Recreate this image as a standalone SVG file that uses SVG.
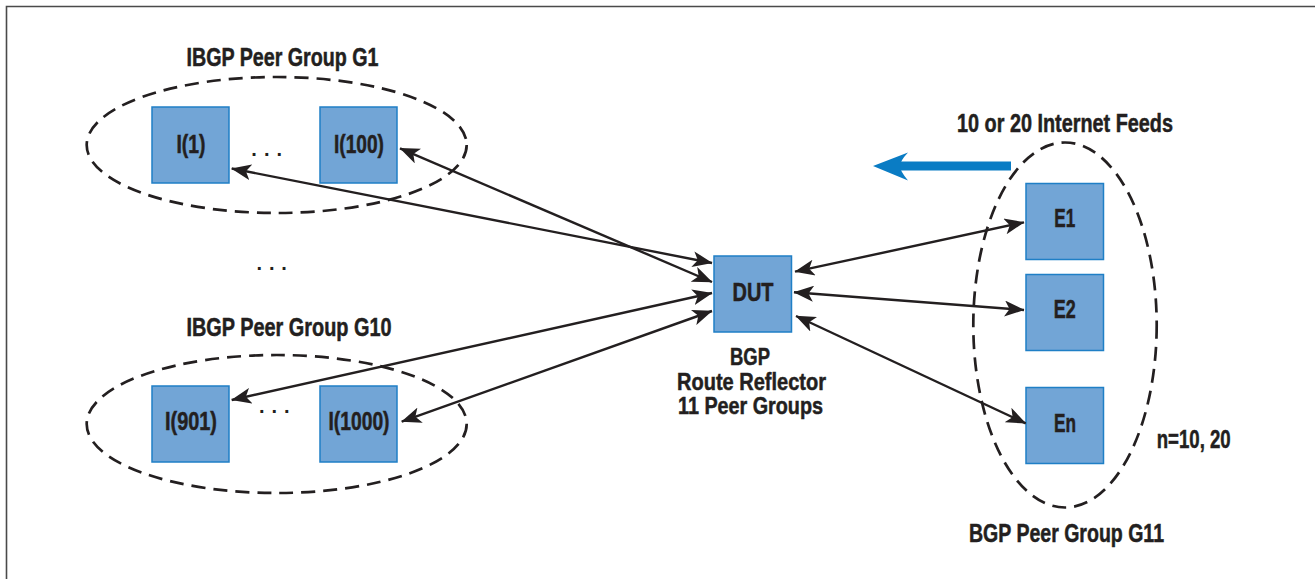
<svg xmlns="http://www.w3.org/2000/svg" width="1315" height="579" viewBox="0 0 1315 579">
<style>
text{font-family:"Liberation Sans Narrow","Liberation Sans",Arial,sans-serif;font-weight:bold;font-size:25px;fill:#231f20;stroke:#231f20;stroke-width:0.5;text-anchor:middle}
text.dots{font-size:20px;stroke:none}
text.cap{font-size:23.5px}
.box{fill:#72a5d6;stroke:#1f7fc6;stroke-width:1.5}
.grp{fill:none;stroke:#231f20;stroke-width:2.7;stroke-dasharray:14 8}
.conn{fill:none;stroke:#231f20;stroke-width:2.4;marker-start:url(#ah);marker-end:url(#ah)}
</style>
<defs>
<marker id="ah" markerUnits="userSpaceOnUse" markerWidth="20" markerHeight="16" viewBox="0 0 20 16" refX="19.5" refY="8" orient="auto-start-reverse">
<path d="M0,0 L20,8 L0,16 L5,8 Z" fill="#231f20"/>
</marker>
</defs>
<rect width="1315" height="579" fill="#fff"/>
<path d="M6.5,579 V6.5 H1315" fill="none" stroke="#4a4a4a" stroke-width="1.6"/>

<g id="group-g1">
<ellipse class="grp" cx="276.7" cy="145" rx="190" ry="68"/>
<text x="282.5" y="66" textLength="192" lengthAdjust="spacingAndGlyphs">IBGP Peer Group G1</text>
<text class="dots" x="254 266.7 279.3" y="155.5">...</text>
</g>
<g id="group-g10">
<ellipse class="grp" cx="276.7" cy="424" rx="190" ry="69"/>
<text x="289" y="336" textLength="205" lengthAdjust="spacingAndGlyphs">IBGP Peer Group G10</text>
<text class="dots" x="261.7 274.3 286.7" y="412.5">...</text>
</g>
<g id="between-dots">
<text class="dots" x="259.3 271.7 284" y="269.5">...</text>
</g>
<g id="group-g11">
<ellipse class="grp" cx="1065" cy="325" rx="91.7" ry="182.5"/>
<text x="1066.5" y="541.7" textLength="195" lengthAdjust="spacingAndGlyphs">BGP Peer Group G11</text>
<text x="1193.7" y="448.3" textLength="74" lengthAdjust="spacingAndGlyphs">n=10, 20</text>
</g>

<g id="node-I1">
<rect class="box" x="152" y="107" width="77" height="76"/>
<text x="191" y="153.3" textLength="29" lengthAdjust="spacingAndGlyphs">I(1)</text>
</g>
<g id="node-I100">
<rect class="box" x="320" y="107" width="77" height="76"/>
<text x="359" y="153.3" textLength="50" lengthAdjust="spacingAndGlyphs">I(100)</text>
</g>
<g id="node-I901">
<rect class="box" x="152" y="386" width="77" height="76"/>
<text x="191" y="430" textLength="52" lengthAdjust="spacingAndGlyphs">I(901)</text>
</g>
<g id="node-I1000">
<rect class="box" x="320" y="386" width="77" height="76"/>
<text x="359" y="430" textLength="61" lengthAdjust="spacingAndGlyphs">I(1000)</text>
</g>
<g id="node-DUT">
<rect class="box" x="714" y="256" width="77.5" height="76"/>
<text x="753" y="301" textLength="41" lengthAdjust="spacingAndGlyphs">DUT</text>
<text class="cap" x="750" y="365" textLength="40" lengthAdjust="spacingAndGlyphs">BGP</text>
<text class="cap" x="751.5" y="390" textLength="149" lengthAdjust="spacingAndGlyphs">Route Reflector</text>
<text class="cap" x="750.5" y="414" textLength="145" lengthAdjust="spacingAndGlyphs">11 Peer Groups</text>
</g>
<g id="node-E1">
<rect class="box" x="1026" y="183.5" width="77.5" height="76"/>
<text x="1064.7" y="227" textLength="21" lengthAdjust="spacingAndGlyphs">E1</text>
</g>
<g id="node-E2">
<rect class="box" x="1026" y="274.5" width="77.5" height="76"/>
<text x="1064.7" y="318.3" textLength="22" lengthAdjust="spacingAndGlyphs">E2</text>
</g>
<g id="node-En">
<rect class="box" x="1026" y="387.5" width="77.5" height="76"/>
<text x="1065" y="431.7" textLength="22" lengthAdjust="spacingAndGlyphs">En</text>
</g>

<g id="feeds">
<text x="1065" y="131.7" textLength="216" lengthAdjust="spacingAndGlyphs">10 or 20 Internet Feeds</text>
<rect x="898" y="161.5" width="113" height="9" fill="#0a7cc4"/>
<path d="M873,166 L908,152.5 Q900,161 900,166 Q900,171 908,180.5 Z" fill="#0a7cc4"/>
</g>

<g id="connectors">
<path class="conn" d="M712,263 L231.7,168.5"/>
<path class="conn" d="M712,282 L400,148.3"/>
<path class="conn" d="M712,293 L231.7,400"/>
<path class="conn" d="M712,311 L401.7,421.7"/>
<path class="conn" d="M795,271.7 L1024,222.3"/>
<path class="conn" d="M794,292.3 L1024,310"/>
<path class="conn" d="M796,316 L1025.7,423.3"/>
</g>
</svg>
